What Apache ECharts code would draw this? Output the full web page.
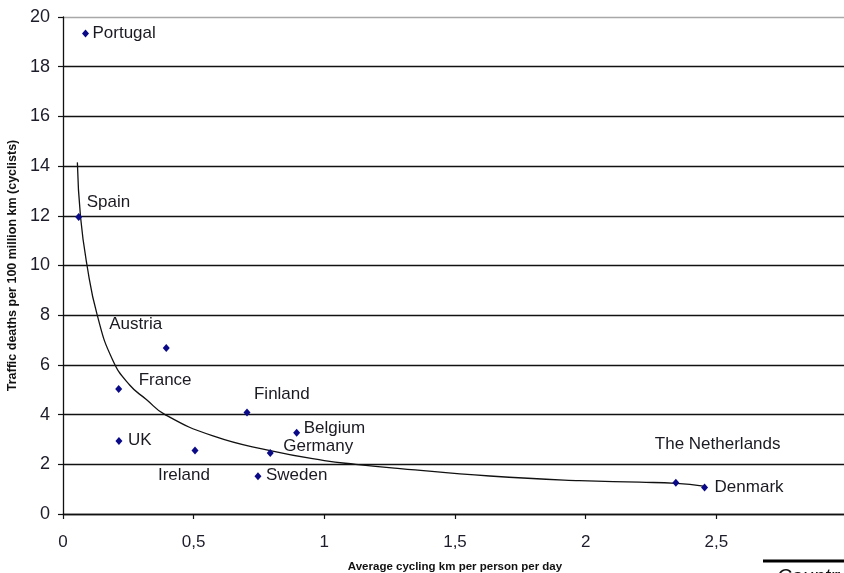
<!DOCTYPE html>
<html>
<head>
<meta charset="utf-8">
<script src="https://cdn.jsdelivr.net/npm/echarts@6/dist/echarts.min.js"></script>
<style>
  html, body { margin: 0; padding: 0; background: #fff; }
  #chart { width: 844px; height: 573px; }
</style>
</head>
<body>
<div id="chart"></div>
<script>
// Countries: average cycling km per person per day vs. cyclist deaths per 100 million km
const countries = ['Portugal', 'Spain', 'Austria', 'France', 'UK', 'Ireland', 'Finland',
                   'Belgium', 'Germany', 'Sweden', 'The Netherlands', 'Denmark'];
const cyclingKm = [0.086, 0.060, 0.395, 0.213, 0.214, 0.505, 0.704, 0.894, 0.793, 0.746, 2.345, 2.455];
const deathRate = [19.34, 11.95, 6.68, 5.03, 2.94, 2.56, 4.08, 3.27, 2.45, 1.52, 1.26, 1.07];

// Trend curve, traced as [km, deaths] pairs
const trendKm     = [0.055, 0.067, 0.092, 0.131, 0.19, 0.255, 0.319, 0.389, 0.574, 0.793, 1.0, 1.12, 1.29, 1.633, 1.976, 2.206, 2.347, 2.45];
const trendDeaths = [14.15, 11.96, 10.0, 8.0, 6.2, 5.19, 4.61, 4.01, 3.14, 2.55, 2.15, 2.0, 1.83, 1.53, 1.34, 1.28, 1.23, 1.12];

// Y tick values
const yTicks = [0, 2, 4, 6, 8, 10, 12, 14, 16, 18, 20];

// Label placement per country: [dx from point to text left, dy from point to text middle]
const labelOffsets = {
  'Portugal': [7, 0], 'Spain': [8, -15], 'Austria': [-57, -24], 'France': [20, -9],
  'UK': [9, -1], 'Ireland': [-37, 25], 'Finland': [7, -18], 'Belgium': [7, -4],
  'Germany': [13, -7], 'Sweden': [8, -1], 'The Netherlands': [-21, -38], 'Denmark': [10, 0]
};

const FONT = 'Liberation Sans, Arial, sans-serif';
const SYM_W = 7, SYM_H = 8;
const points = countries.map((name, i) => {
  const off = labelOffsets[name];
  return {
    name: name,
    value: [cyclingKm[i], deathRate[i]],
    label: {
      show: true,
      formatter: name,
      position: [SYM_W / 2 + off[0], SYM_H / 2 + off[1]],
      align: 'left',
      verticalAlign: 'middle',
      fontFamily: FONT,
      fontSize: 17,
      color: '#1a1a22',
      textBorderWidth: 0,
      opacity: 1
    }
  };
});

const trend = trendKm.map((x, i) => [x, trendDeaths[i]]);

const chart = echarts.init(document.getElementById('chart'), null, { renderer: 'canvas' });
const gridColors = yTicks.map((v, i) => i === yTicks.length - 1 ? '#a8a8a8' : '#111');

chart.setOption({
  backgroundColor: '#fff',
  animation: false,
  grid: {
    left: 63, top: 17, width: 784, height: 497,
    containLabel: false,
    outerBoundsMode: 'none'
  },
  xAxis: {
    type: 'value',
    min: 0, max: 3, interval: 0.5,
    name: 'Average cycling km per person per day',
    nameLocation: 'middle',
    nameGap: 47,
    nameTextStyle: { fontFamily: FONT, fontSize: 11.5, fontWeight: 'bold', color: '#111' },
    axisLine: { show: true, lineStyle: { color: '#111', width: 1.3 } },
    axisTick: { show: true, length: 5, lineStyle: { color: '#111', width: 1.2 } },
    axisLabel: {
      margin: 20, fontFamily: FONT, fontSize: 17, color: '#1c1c2a',
      formatter: v => (v >= 3 ? '' : String(v).replace('.', ','))
    },
    splitLine: { show: false }
  },
  yAxis: {
    type: 'value',
    min: yTicks[0], max: yTicks[yTicks.length - 1], interval: 2,
    name: 'Traffic deaths per 100 million km (cyclists)',
    nameLocation: 'middle',
    nameGap: 43,
    nameRotate: 90,
    nameTextStyle: { fontFamily: FONT, fontSize: 12.5, fontWeight: 'bold', color: '#111' },
    axisLine: { show: true, lineStyle: { color: '#111', width: 1.3 } },
    axisTick: { show: true, length: 5, lineStyle: { color: '#111', width: 1.2 } },
    axisLabel: { margin: 13, fontFamily: FONT, fontSize: 18, color: '#1c1c2a' },
    splitLine: { show: true, lineStyle: { color: gridColors, width: 1.3 } }
  },
  series: [
    {
      type: 'line',
      data: trend,
      smooth: 0.5,
      showSymbol: false,
      symbol: 'none',
      lineStyle: { color: '#111', width: 1.3 },
      z: 3,
      silent: true
    },
    {
      type: 'scatter',
      data: points,
      symbol: 'diamond',
      symbolSize: [SYM_W, SYM_H],
      itemStyle: { color: '#0a0a88', opacity: 1 },
      label: { color: '#1a1a22', opacity: 1 },
      z: 4
    }
  ],
  graphic: [
    { type: 'line', shape: { x1: 763, y1: 561, x2: 844, y2: 561 }, style: { stroke: '#000', lineWidth: 3 } },
    { type: 'text', left: 777, top: 567, style: { text: 'Country', font: 'italic 20px ' + FONT, fill: '#111' } }
  ]
});
</script>
</body>
</html>
